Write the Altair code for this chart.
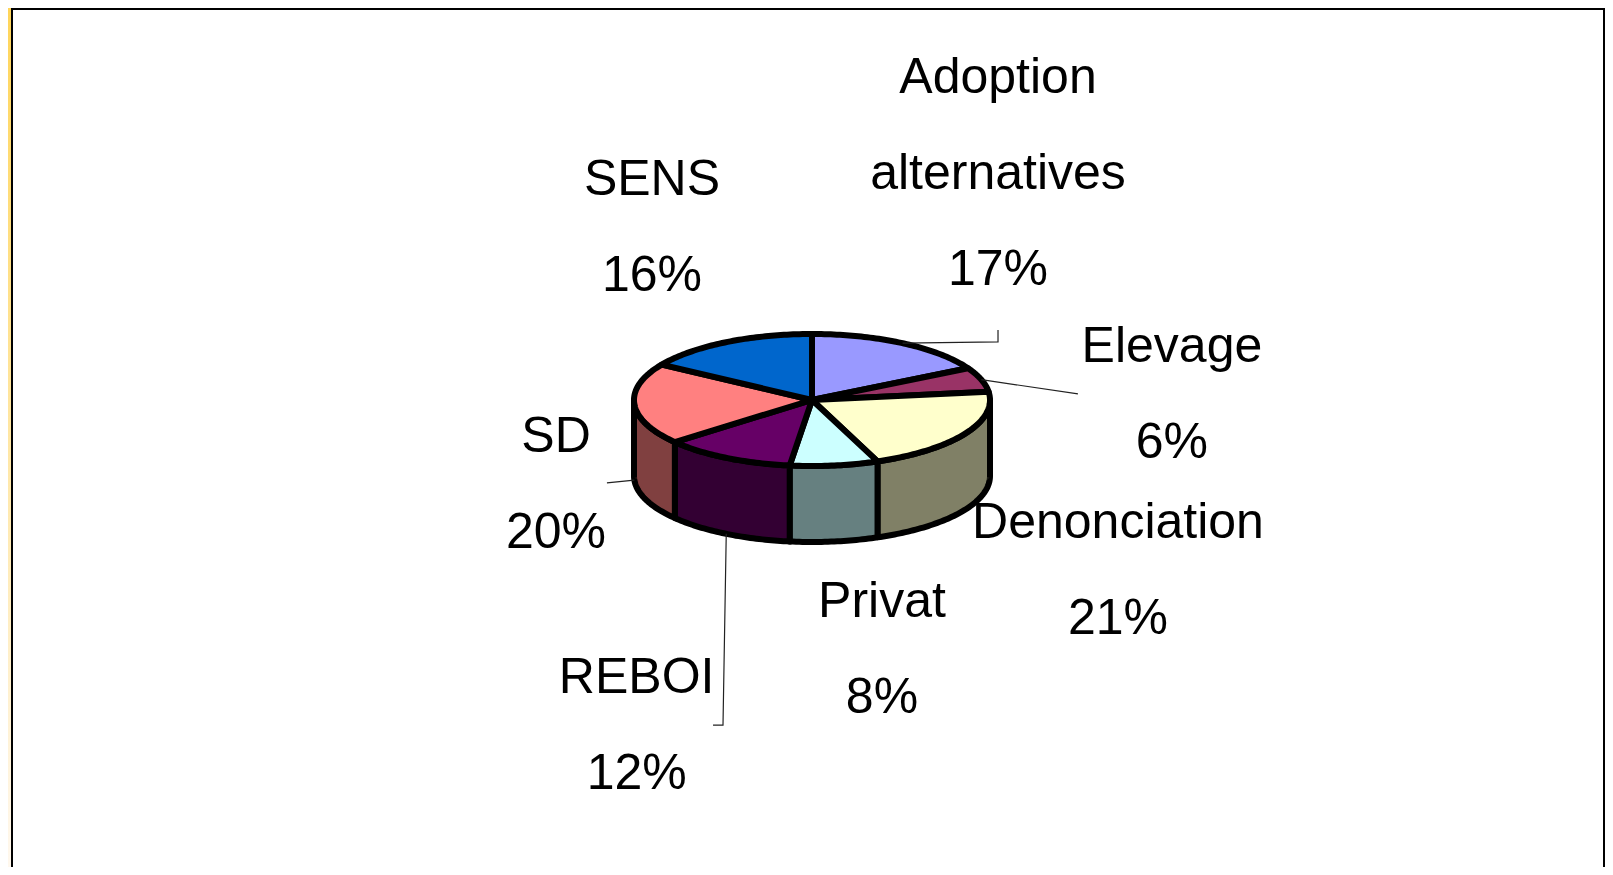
import math
import numpy as np
import pandas as pd
import altair as alt

# ---------------- data ----------------
categories = ["Adoption alternatives", "Elevage", "Denonciation", "Privat", "REBOI", "SD", "SENS"]
percents = [17, 6, 21, 8, 12, 20, 16]
top_colors = ["#9999FF", "#993366", "#FFFFCC", "#CCFFFF", "#660066", "#FF8080", "#0066CC"]
side_colors = ["#4D4D80", "#4D1A33", "#808066", "#668080", "#330033", "#804040", "#003366"]

# ---------------- layout (not data) ----------------
W, H = 1597, 859            # whole chart
CX, CY = 804, 392           # pie centre, chart pixels
UNIT = 178                  # pixels per unit (horizontal pie radius)
TILT = 66 / 178             # vertical/horizontal radius ratio of the top face
DEPTH = 76 / 178            # wall height
FONT = "Liberation Sans Narrow, Arial Narrow, Liberation Sans, Arial, sans-serif"
FONT_SIZE = 50
LINE_H = 96

# label anchor (centre x, first-line baseline y) in pie units
label_pos = {
    "Adoption alternatives": (1.045, 1.725),
    "Elevage": (2.022, 0.213),
    "Denonciation": (1.719, -0.775),
    "Privat": (0.393, -1.219),
    "REBOI": (-0.985, -1.646),
    "SD": (-1.438, -0.292),
    "SENS": (-0.899, 1.152),
}
# leader line bends (after the slice point) in pie units
leader_bends = {
    "Adoption alternatives": [(1.045, 0.326), (1.045, 0.393)],
    "Elevage": [(1.494, 0.034)],
    "SD": [(-1.152, -0.466)],
    "REBOI": [(-0.50, -1.826), (-0.556, -1.826)],
}

xs = alt.Scale(domain=[-CX / UNIT, (W - CX) / UNIT], range=[0, W], nice=False, zero=False)
ys = alt.Scale(domain=[-(H - CY) / UNIT, CY / UNIT], range=[H, 0], nice=False, zero=False)

# ---------------- tables built from the data ----------------
total = sum(percents)
top_rows, wall_rows, leader_rows, label_rows = [], [], [], []
cum = 0.0
for i, (cat, p) in enumerate(zip(categories, percents)):
    a0 = cum / total * 2 * math.pi
    a1 = (cum + p) / total * 2 * math.pi
    cum += p
    n = max(3, int(math.degrees(a1 - a0)) + 1)
    angs = np.linspace(a0, a1, n)
    pts = [(0.0, 0.0)] + [(math.sin(a), math.cos(a) * TILT) for a in angs] + [(0.0, 0.0)]
    for k, (x, y) in enumerate(pts):
        top_rows.append(dict(poly=f"t{i}", k=k, x=x, y=y, fill=top_colors[i]))
    # visible front wall
    w0, w1 = max(a0, math.pi / 2), min(a1, 3 * math.pi / 2)
    if w1 > w0:
        m = max(3, int(math.degrees(w1 - w0)) + 1)
        wa = np.linspace(w0, w1, m)
        upper = [(math.sin(a), math.cos(a) * TILT) for a in wa]
        lower = [(math.sin(a), math.cos(a) * TILT - DEPTH) for a in wa[::-1]]
        wpts = upper + lower + [upper[0]]
        for k, (x, y) in enumerate(wpts):
            wall_rows.append(dict(poly=f"w{i}", k=k, x=x, y=y, fill=side_colors[i]))
    # leader line
    mid = (a0 + a1) / 2
    if cat in leader_bends:
        front = math.cos(mid) < 0
        sx, sy = math.sin(mid), math.cos(mid) * TILT - (DEPTH if front else 0)
        for k, (x, y) in enumerate([(sx, sy)] + leader_bends[cat]):
            leader_rows.append(dict(poly=f"l{i}", k=k, x=x, y=y))
    lx, ly = label_pos[cat]
    label_rows.append(dict(text=cat.replace(" ", "\n") + f"\n{p}%", x=lx, y=ly))

top_df = pd.DataFrame(top_rows)
wall_df = pd.DataFrame(wall_rows)
leader_df = pd.DataFrame(leader_rows)
label_df = pd.DataFrame(label_rows)

X = alt.X("x:Q", scale=xs, axis=None)
Y = alt.Y("y:Q", scale=ys, axis=None)

walls = alt.Chart(wall_df).mark_line(
    stroke="black", strokeWidth=6, strokeJoin="round", strokeCap="round"
).encode(x=X, y=Y, order="k:Q", detail="poly:N", fill=alt.Fill("fill:N", scale=None))

tops = alt.Chart(top_df).mark_line(
    stroke="black", strokeWidth=6, strokeJoin="round", strokeCap="round"
).encode(x=X, y=Y, order="k:Q", detail="poly:N", fill=alt.Fill("fill:N", scale=None))

leaders = alt.Chart(leader_df).mark_line(stroke="#222222", strokeWidth=1.2).encode(
    x=X, y=Y, order="k:Q", detail="poly:N"
)

labels = alt.Chart(label_df).mark_text(
    font=FONT, fontSize=FONT_SIZE, lineBreak="\n", lineHeight=LINE_H,
    align="center", baseline="alphabetic", color="black"
).encode(x=X, y=Y, text="text:N")

# ---------------- frame decoration ----------------
one = alt.Data(values=[{"a": 1}])
band = alt.Chart(one).mark_rect(
    fill=alt.LinearGradient(
        gradient="linear",
        stops=[alt.GradientStop(color="#FFD55A", offset=0), alt.GradientStop(color="#FFF8EE", offset=1)],
        x1=0, x2=0, y1=0, y2=1,
    )
).encode(x=alt.value(0), x2=alt.value(3), y=alt.value(0), y2=alt.value(H))
frame_left = alt.Chart(one).mark_rect(fill="black").encode(
    x=alt.value(3), x2=alt.value(5), y=alt.value(0), y2=alt.value(H))
frame_top = alt.Chart(one).mark_rect(fill="black").encode(
    x=alt.value(3), x2=alt.value(W), y=alt.value(0), y2=alt.value(2))
frame_right = alt.Chart(one).mark_rect(fill="black").encode(
    x=alt.value(W - 2), x2=alt.value(W), y=alt.value(0), y2=alt.value(H))

chart = alt.layer(
    band, frame_left, frame_top, frame_right, walls, tops, leaders, labels
).properties(
    width=W, height=H, padding=0,
    autosize=alt.AutoSizeParams(type="fit", contains="padding"),
).configure_view(stroke=None).configure(background="white")

chart.save("out.html", embed_options={"renderer": "svg", "actions": False})
